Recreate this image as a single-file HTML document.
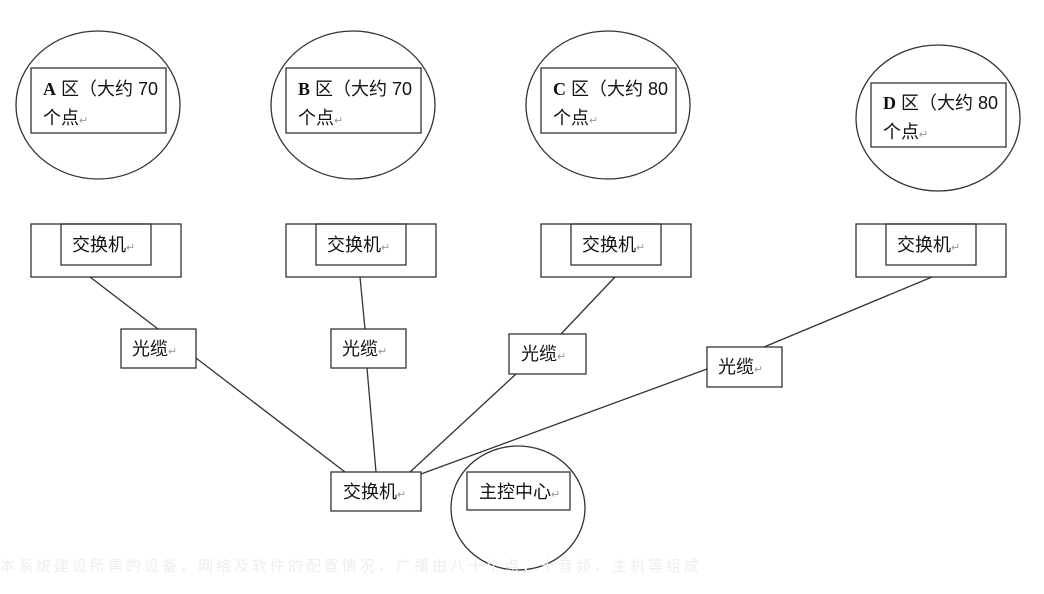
<!DOCTYPE html>
<html><head><meta charset="utf-8"><style>
html,body{margin:0;padding:0;background:#fff;}
svg text{font-family:"Liberation Sans","Noto Sans CJK SC",sans-serif;font-size:18px;fill:#111;}
.r{font-size:11px;fill:#999;}
</style></head><body>
<svg width="1044" height="589" viewBox="0 0 1044 589" xmlns="http://www.w3.org/2000/svg">
<g fill="none" stroke="#333" stroke-width="1.3">
<ellipse cx="98" cy="105" rx="82" ry="74"/>
<ellipse cx="353" cy="105" rx="82" ry="74"/>
<ellipse cx="608" cy="105" rx="82" ry="74"/>
<ellipse cx="938" cy="118" rx="82" ry="73"/>
<rect x="31" y="68" width="135" height="65"/>
<rect x="286" y="68" width="135" height="65"/>
<rect x="541" y="68" width="135" height="65"/>
<rect x="871" y="83" width="135" height="64"/>
<rect x="31" y="224" width="150" height="53"/>
<rect x="61" y="224" width="90" height="41"/>
<rect x="286" y="224" width="150" height="53"/>
<rect x="316" y="224" width="90" height="41"/>
<rect x="541" y="224" width="150" height="53"/>
<rect x="571" y="224" width="90" height="41"/>
<rect x="856" y="224" width="150" height="53"/>
<rect x="886" y="224" width="90" height="41"/>
<rect x="121" y="329" width="75" height="39"/>
<rect x="331" y="329" width="75" height="39"/>
<rect x="509" y="334" width="77" height="40"/>
<rect x="707" y="347" width="75" height="40"/>
<rect x="331" y="472" width="90" height="39"/>
<ellipse cx="518" cy="508" rx="67" ry="62"/>
<rect x="467" y="472" width="103" height="38"/>
<line x1="90" y1="277" x2="158" y2="329"/>
<line x1="196" y1="358" x2="345" y2="472"/>
<line x1="360" y1="277" x2="365" y2="329"/>
<line x1="367" y1="368" x2="376" y2="472"/>
<line x1="615" y1="277" x2="561" y2="334"/>
<line x1="516" y1="374" x2="410" y2="472"/>
<line x1="932" y1="277" x2="764" y2="347"/>
<line x1="707" y1="369" x2="421" y2="474"/>
</g>
<text x="43" y="95"><tspan font-family="Liberation Serif" font-weight="bold">A</tspan> 区（大约 70</text>
<text x="43" y="124">个点<tspan class="r">↵</tspan></text>
<text x="298" y="95"><tspan font-family="Liberation Serif" font-weight="bold">B</tspan> 区（大约 70</text>
<text x="298" y="124">个点<tspan class="r">↵</tspan></text>
<text x="553" y="95"><tspan font-family="Liberation Serif" font-weight="bold">C</tspan> 区（大约 80</text>
<text x="553" y="124">个点<tspan class="r">↵</tspan></text>
<text x="883" y="109"><tspan font-family="Liberation Serif" font-weight="bold">D</tspan> 区（大约 80</text>
<text x="883" y="138">个点<tspan class="r">↵</tspan></text>
<text x="72" y="251">交换机<tspan class="r">↵</tspan></text>
<text x="327" y="251">交换机<tspan class="r">↵</tspan></text>
<text x="582" y="251">交换机<tspan class="r">↵</tspan></text>
<text x="897" y="251">交换机<tspan class="r">↵</tspan></text>
<text x="132" y="355">光缆<tspan class="r">↵</tspan></text>
<text x="342" y="355">光缆<tspan class="r">↵</tspan></text>
<text x="521" y="360">光缆<tspan class="r">↵</tspan></text>
<text x="718" y="373">光缆<tspan class="r">↵</tspan></text>
<text x="343" y="498">交换机<tspan class="r">↵</tspan></text>
<text x="479" y="498">主控中心<tspan class="r">↵</tspan></text>
<text x="0" y="571" style="font-size:15px;fill:#eee;letter-spacing:3px">本系统建设所需的设备，网络及软件的配置情况，广播由八十个点，十音频，主机等组成</text>
</svg>
</body></html>
